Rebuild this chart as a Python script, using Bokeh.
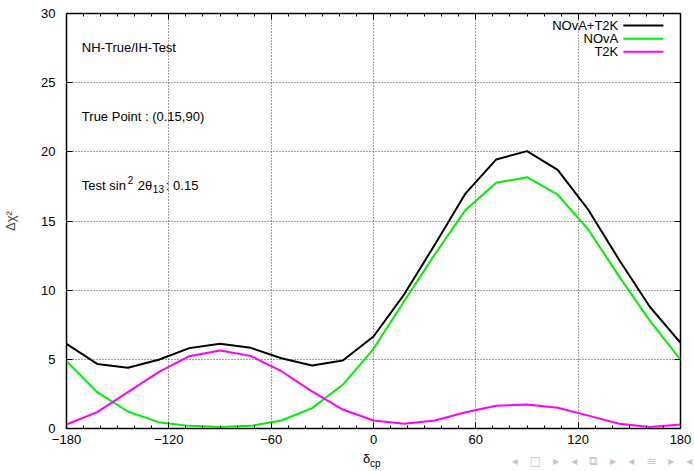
from bokeh.plotting import figure
from bokeh.models import FixedTicker, LinearAxis, Label, BoxAnnotation, Range1d, ColumnDataSource
from bokeh.embed import file_html
from bokeh.resources import INLINE

# ---------------- data ----------------
delta_cp = [-180, -162, -144, -126, -108, -90, -72, -54, -36, -18, 0,
            18, 36, 54, 72, 90, 108, 126, 144, 162, 180]
nova_t2k = [6.12, 4.67, 4.39, 4.97, 5.81, 6.12, 5.83, 5.08, 4.55, 4.92, 6.65,
            9.7, 13.3, 17.0, 19.45, 20.05, 18.7, 15.8, 12.2, 8.8, 6.2]
nova = [4.87, 2.63, 1.23, 0.46, 0.19, 0.10, 0.19, 0.58, 1.47, 3.16, 5.76,
        9.2, 12.6, 15.8, 17.76, 18.17, 16.9, 14.37, 11.0, 7.8, 4.97]
t2k = [0.29, 1.18, 2.63, 4.07, 5.23, 5.64, 5.25, 4.14, 2.68, 1.37, 0.58,
       0.34, 0.58, 1.18, 1.64, 1.73, 1.50, 0.93, 0.34, 0.10, 0.29]
series_names = ["NOvA+T2K", "NOvA", "T2K"]
series_colors = ["black", "#00ee00", "#ff00ff"]
x_ticks = [-180, -120, -60, 0, 60, 120, 180]
x_minor = list(range(-180, 181, 10))
y_ticks = [0, 5, 10, 15, 20, 25, 30]

FONT = "Liberation Sans"
FS = "13px"

src = ColumnDataSource(dict(d=delta_cp, both=nova_t2k, nova=nova, t2k=t2k))

p = figure(width=694, height=471, output_backend="svg", toolbar_location=None,
           x_range=Range1d(-180, 180), y_range=Range1d(0, 30),
           min_border_left=62, min_border_right=14, min_border_top=13,
           min_border_bottom=43, background_fill_color="white",
           border_fill_color="white")
p.outline_line_color = "black"
p.outline_line_width = 1.5


def style_axis(ax, show_labels):
    ax.axis_line_color = None
    ax.major_tick_in = 6
    ax.major_tick_out = 0
    ax.minor_tick_in = 3
    ax.minor_tick_out = 0
    ax.major_tick_line_color = "black"
    ax.minor_tick_line_color = "black"
    ax.major_label_text_font = FONT
    if show_labels:
        ax.major_label_text_font_size = FS
        ax.major_label_text_color = "black"
    else:
        ax.major_label_text_font_size = "1px"
        ax.major_label_text_color = None
        ax.major_label_standoff = 0


xa = p.xaxis[0]
xa.ticker = FixedTicker(ticks=x_ticks, minor_ticks=x_minor)
style_axis(xa, True)
xa.major_label_standoff = 6

ya = p.yaxis[0]
ya.ticker = FixedTicker(ticks=y_ticks, minor_ticks=[])
style_axis(ya, True)
ya.major_label_standoff = 11
ya.axis_label = "Δχ²"
ya.axis_label_text_font = FONT
ya.axis_label_text_font_size = FS
ya.axis_label_text_font_style = "normal"
ya.axis_label_standoff = 20

top_ax = LinearAxis(ticker=FixedTicker(ticks=x_ticks, minor_ticks=x_minor))
style_axis(top_ax, False)
p.add_layout(top_ax, "above")
right_ax = LinearAxis(ticker=FixedTicker(ticks=y_ticks, minor_ticks=[]))
style_axis(right_ax, False)
p.add_layout(right_ax, "right")


def text_axis(x_pos, text, size, color, standoff, font=FONT):
    """A tick-less bottom axis used only to place one piece of text below the frame."""
    ax = LinearAxis(ticker=FixedTicker(ticks=[x_pos], minor_ticks=[]),
                    major_label_overrides={x_pos: text})
    ax.axis_line_color = None
    ax.major_tick_line_color = None
    ax.minor_tick_line_color = None
    ax.major_tick_in = 0
    ax.major_tick_out = 0
    ax.minor_tick_in = 0
    ax.minor_tick_out = 0
    ax.major_label_text_font = font
    ax.major_label_text_font_size = size
    ax.major_label_text_color = color
    ax.major_label_standoff = standoff
    p.add_layout(ax, "below")


# x axis label  δ_cp  (δ, then lowered smaller "cp")
text_axis(-4, "δ", FS, "black", 4)
text_axis(1, "cp", "10px", "black", -11)
# beamer navigation symbols
nav = "\u2003".join(["◂", "□", "▸", "◂", "⧉", "▸", "◂", "≡", "▸", "◂"])
text_axis(134, nav, "12px", "#d4bcd8", -18, font="DejaVu Sans")

p.xgrid.ticker = FixedTicker(ticks=x_ticks)
p.ygrid.ticker = FixedTicker(ticks=y_ticks)
p.grid.grid_line_color = "#444444"
p.grid.grid_line_dash = "1 2"

for col, color in zip(["both", "nova", "t2k"], series_colors):
    p.line("d", col, source=src, line_color=color, line_width=2)

# ---------------- legend (gnuplot style: text then sample) ----------------
leg_y = [29.13, 28.18, 27.23]
for name, color, yy in zip(series_names, series_colors, leg_y):
    p.add_layout(Label(x=143.5, y=yy, text=name, text_align="right",
                       text_baseline="middle", text_font=FONT,
                       text_font_size=FS, text_color="black"))
    p.add_layout(BoxAnnotation(left=146.5, right=170, bottom=yy - 0.075,
                               top=yy + 0.075, fill_color=color, fill_alpha=1,
                               line_color=None, level="overlay"))


# ---------------- annotations ----------------
def note(txt, yy, dx=0, dy=0, size=FS):
    p.add_layout(Label(x=-171, y=yy, text=txt, text_align="left",
                       text_baseline="middle", text_font=FONT,
                       text_font_size=size, text_color="black",
                       x_offset=dx, y_offset=dy))


note("NH-True/IH-Test", 27.54)
note("True Point : (0.15,90)", 22.55)
note("Test sin", 17.57)
note("2", 17.57, dx=46, dy=5, size="10px")
note("2θ", 17.57, dx=56, size=FS)
note("13", 17.57, dx=71, dy=-4, size="10px")
note(": 0.15", 17.57, dx=84, size=FS)

open("out.html", "w").write(file_html(p, INLINE))
